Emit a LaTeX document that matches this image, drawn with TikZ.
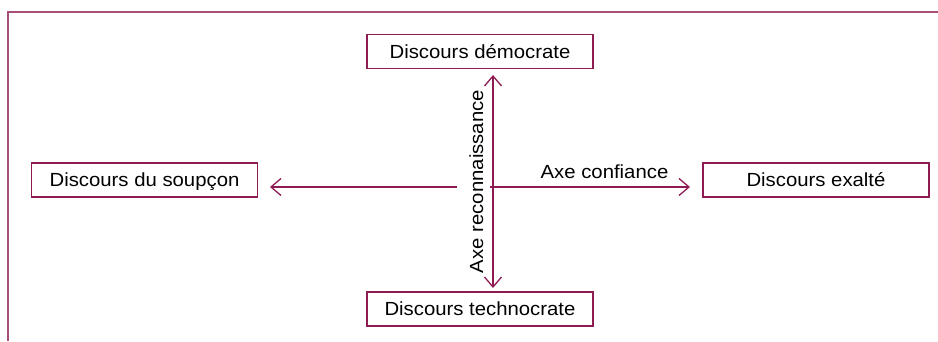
\documentclass[tikz,border=0pt]{standalone}
\usepackage{fontspec}
\setmainfont{Liberation Sans}[FakeStretch=1.07]
\usetikzlibrary{arrows.meta}
\definecolor{framec}{HTML}{A65079}
\definecolor{linec}{HTML}{8C1C52}
\tikzset{
  box/.style={draw=linec, line width=1.3pt, minimum width=226pt, minimum height=34pt,
    inner sep=0pt, text height=13.5pt, text depth=0pt, font=\fontsize{19}{21}\selectfont},
  lbl/.style={inner sep=0pt, font=\fontsize{19}{21}\selectfont},
  arr/.style={draw=linec, line width=1.3pt, -{Straight Barb[length=10pt,width=17pt]}},
  darr/.style={draw=linec, line width=1.3pt, {Straight Barb[length=10pt,width=17pt]}-{Straight Barb[length=10pt,width=17pt]}},
  framel/.style={draw=framec, line width=2.4pt}
}
\begin{document}
\begin{tikzpicture}[x=1pt,y=-1pt]
\useasboundingbox (0,0) rectangle (938,341);
\draw[framel] (8,341) -- (8,12) -- (938,12);
\node[box] (dem) at (480,51.5) {Discours démocrate};
\node[box] (tech) at (480,309) {Discours technocrate};
\node[box] (soup) at (144.5,180) {Discours du soupçon};
\node[box] (exal) at (816,180) {Discours exalté};
\coordinate (vtop) at (493,75);
\coordinate (vbot) at (493,288);
\coordinate (lstart) at (457,187);
\coordinate (lend) at (270,187);
\coordinate (rstart) at (490,187);
\coordinate (rend) at (690,187);
\draw[darr] (vtop) -- (vbot);
\draw[arr] (lstart) -- (lend);
\draw[arr] (rstart) -- (rend);
\node[lbl, anchor=base] (conf) at (604.5,178) {Axe confiance};
\node[lbl, anchor=base, rotate=90] (reco) at (483,181.5) {Axe reconnaissance};
\end{tikzpicture}
\end{document}
